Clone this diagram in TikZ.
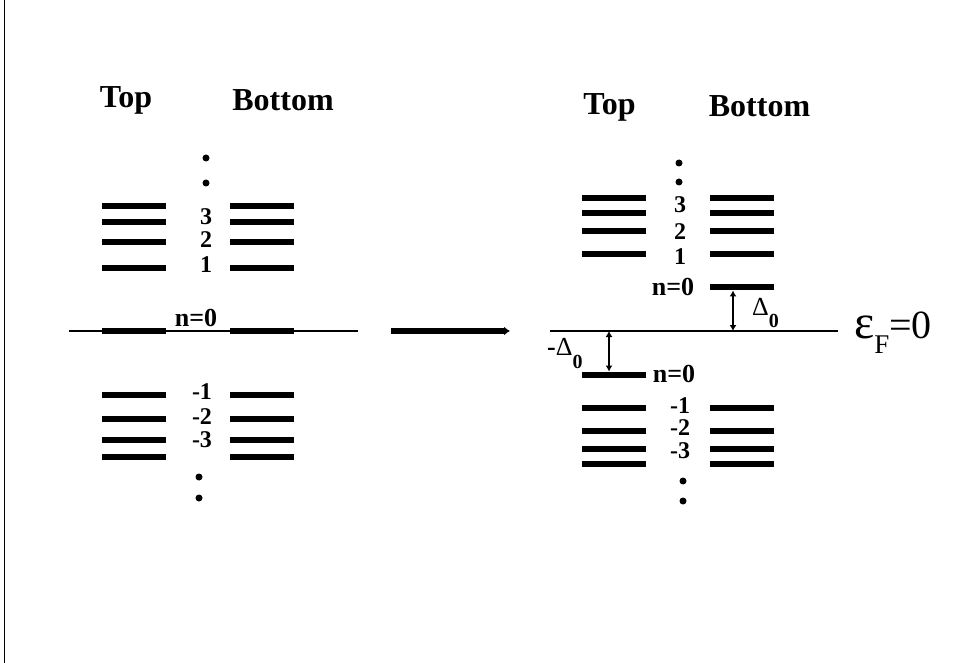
\documentclass[tikz,border=0pt]{standalone}
\usepackage{fontspec}
\setmainfont{Liberation Serif}
\usetikzlibrary{arrows.meta}

\tikzstyle{landau}=[fill, inner sep=0pt, minimum width=64pt, minimum height=6.5pt]
\tikzstyle{title}=[inner sep=0pt, anchor=base, font=\fontsize{32}{36}\selectfont\bfseries]
\tikzstyle{num}=[inner sep=0pt, font=\fontsize{24}{26}\selectfont\bfseries]
\tikzstyle{zero}=[inner sep=0pt, font=\fontsize{26}{30}\selectfont\bfseries]
\tikzstyle{fermi}=[line width=1.3pt]
\tikzstyle{gap}=[line width=2.5pt, {Latex[length=6pt,width=7pt]}-{Latex[length=6pt,width=7pt]}]
\tikzstyle{move}=[line width=5.5pt, -{Latex[length=6pt,width=9pt]}]

\newcommand{\gapsym}{{\fontsize{26}{30}\selectfont Δ}\raisebox{-13pt}{\fontsize{20}{22}\selectfont\bfseries 0}}

\begin{document}
\begin{tikzpicture}[x=1pt, y=-1pt]
      \useasboundingbox (0,0) rectangle (956,663);
      \draw[line width=1.5pt] (4.5,0) -- (4.5,663);

      % before the gap opens
      \node[title] (top1) at (126,108) {Top};
      \node[title] (bot1) at (283,111) {Bottom};
      \fill (206,158) circle (3.5);
      \fill (206,183) circle (3.5);
      \node[landau] (aT3) at (134,206) {};
      \node[landau] (aB3) at (261.5,206) {};
      \node[landau] (aT2) at (134,222) {};
      \node[landau] (aB2) at (261.5,222) {};
      \node[landau] (aT1) at (134,242) {};
      \node[landau] (aB1) at (261.5,242) {};
      \node[landau] (aT0) at (134,268) {};
      \node[landau] (aB0) at (261.5,268) {};
      \node[num] (a3) at (206,217) {3};
      \node[num] (a2) at (206,240) {2};
      \node[num] (a1) at (206,265) {1};

      \coordinate (fa1) at (69,331);
      \coordinate (fa2) at (358,331);
      \draw[fermi] (fa1) -- (fa2);
      \node[landau] (aTz) at (134,331) {};
      \node[landau] (aBz) at (261.5,331) {};
      \node[zero] (az) at (196,318) {n=0};

      \node[landau] (aTm1) at (134,395) {};
      \node[landau] (aBm1) at (261.5,395) {};
      \node[landau] (aTm2) at (134,419) {};
      \node[landau] (aBm2) at (261.5,419) {};
      \node[landau] (aTm3) at (134,440) {};
      \node[landau] (aBm3) at (261.5,440) {};
      \node[landau] (aTm4) at (134,457) {};
      \node[landau] (aBm4) at (261.5,457) {};
      \node[num] (am1) at (202,392) {-1};
      \node[num] (am2) at (202,417) {-2};
      \node[num] (am3) at (202,440) {-3};
      \fill (199,477) circle (3.5);
      \fill (199,498) circle (3.5);

      \coordinate (from) at (391,331);
      \coordinate (to) at (510,331);
      \draw[move] (from) -- (to);

      % after the gap opens
      \node[title] (top2) at (609.5,115) {Top};
      \node[title] (bot2) at (759.5,117) {Bottom};
      \fill (679,163) circle (3.5);
      \fill (679,182) circle (3.5);
      \node[landau] (bT3) at (614,198) {};
      \node[landau] (bB3) at (742,198) {};
      \node[landau] (bT2) at (614,213) {};
      \node[landau] (bB2) at (742,213) {};
      \node[landau] (bT1) at (614,231) {};
      \node[landau] (bB1) at (742,231) {};
      \node[landau] (bT0) at (614,254) {};
      \node[landau] (bB0) at (742,254) {};
      \node[num] (b3) at (680,205) {3};
      \node[num] (b2) at (680,232) {2};
      \node[num] (b1) at (680,257) {1};

      \node[landau] (bBz) at (742,287) {};
      \node[zero] (bzB) at (673,287) {n=0};
      \coordinate (fb1) at (550,331);
      \coordinate (fb2) at (838,331);
      \draw[fermi] (fb1) -- (fb2);
      \node[landau] (bTz) at (614,375) {};
      \node[zero] (bzT) at (674,374) {n=0};

      \coordinate (up) at (733,331);
      \coordinate (down) at (609,331);
      \draw[gap] (bBz.south -| up) -- (up);
      \draw[gap] (down) -- (bTz.north -| down);
      \node[anchor=base west, inner sep=0pt] (dup) at (752,315) {\gapsym};
      \node[anchor=base west, inner sep=0pt] (ddown) at (547,355) {{\fontsize{26}{30}\selectfont\bfseries -}\gapsym};
      \node[anchor=base west, inner sep=0pt] (ef) at (854,338)
        {{\fontsize{48}{50}\selectfont ε}\raisebox{-15pt}{\fontsize{27}{30}\selectfont F}{\fontsize{40}{44}\selectfont =0}};

      \node[landau] (bTm1) at (614,408) {};
      \node[landau] (bBm1) at (742,408) {};
      \node[landau] (bTm2) at (614,431) {};
      \node[landau] (bBm2) at (742,431) {};
      \node[landau] (bTm3) at (614,449) {};
      \node[landau] (bBm3) at (742,449) {};
      \node[landau] (bTm4) at (614,464) {};
      \node[landau] (bBm4) at (742,464) {};
      \node[num] (bm1) at (680,406) {-1};
      \node[num] (bm2) at (680,428) {-2};
      \node[num] (bm3) at (680,451) {-3};
      \fill (683,481) circle (3.5);
      \fill (683,501) circle (3.5);
    \end{tikzpicture}
\end{document}
